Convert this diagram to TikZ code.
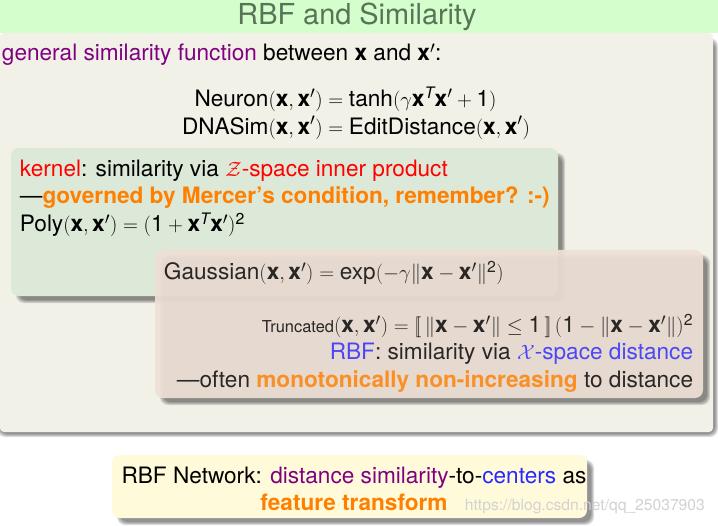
\documentclass[tikz,border=0pt]{standalone}
\usepackage{amsmath}
\usepackage{amssymb}
\usepackage{fontspec}
\setmainfont{TeX Gyre Heros}

\definecolor{titlebar}{RGB}{212,255,204}
\definecolor{slidebg}{RGB}{242,241,232}
\definecolor{titletext}{RGB}{88,116,88}
\definecolor{kernelbg}{RGB}{220,233,216}
\definecolor{rbfbg}{RGB}{238,224,214}
\definecolor{notebg}{RGB}{255,250,218}
\definecolor{hlpurple}{RGB}{128,0,128}
\definecolor{hlred}{RGB}{255,0,0}
\definecolor{hlorange}{RGB}{255,128,0}
\definecolor{hlblue}{RGB}{40,40,255}

\newcommand{\vx}{\textbf{x}}
\newcommand{\tr}{^{\textit{T}}}
\newcommand{\sq}{^{\text{2}}}
\newcommand{\one}{\text{1}}
% soft shadow under a box: x1 y1 x2 y2
\newcommand{\boxshadow}[4]{%
  \foreach \b in {0,1,2,3}
    \fill[black,opacity=0.13,rounded corners=8]
      ({#1+5+\b},{#2+5+\b}) rectangle ({#3+7-\b},{#4+7-\b});
}

\begin{document}
\begin{tikzpicture}[x=1bp,y=1bp,yscale=-1,xscale=1,
  every node/.style={inner sep=0.75pt,font=\fontsize{22.7}{27.2}\selectfont},
  boxfill/.style={rounded corners=8}]
\useasboundingbox (0,0) rectangle (718,526);
\fill[white] (0,0) rectangle (718,526);

%Slide body
\boxshadow{-8}{33}{711}{430}
\fill[slidebg,rounded corners=4] (0,33) rectangle (713,432);
%Title bar
\fill[titlebar] (0,0) rectangle (718,33);
\node[font=\fontsize{29}{32}\selectfont,text=titletext] (title) at (357,17) {RBF and Similarity};

% Text Node
\node[anchor=base west] (intro) at (1,61) {\textcolor{hlpurple}{general similarity function} between \vx{} and $\vx'$:};
% Text Node
\node (simeqs) at (356,114.5) {\jot=0pt$\begin{aligned}
  \text{Neuron}(\vx,\vx') &= \text{tanh}(\gamma\vx\tr\vx'+\one)\\
  \text{DNASim}(\vx,\vx') &= \text{EditDistance}(\vx,\vx')
\end{aligned}$};

%Kernel block
\boxshadow{11}{148}{558}{296}
\fill[kernelbg,boxfill] (11,148) rectangle (558,296);
% Text Node (base = last line)
\node[anchor=base west,align=left] (kernel) at (19,232) {\textcolor{hlred}{kernel}: similarity via \textcolor{hlred}{$\mathcal{Z}$-space inner product}\\
  ---\textcolor{hlorange}{\bfseries governed by Mercer’s condition, remember? :-)}\\[1.5pt]
  Poly$(\vx,\vx')=(\one+\vx\tr\vx')\sq$};

%RBF block
\boxshadow{155}{250}{703}{398}
\fill[rbfbg,boxfill,fill opacity=0.93] (155,250) rectangle (703,398);
\begin{scope}[opacity=0.82]
% Text Node
\node[anchor=base west] (gauss) at (163,280) {Gaussian$(\vx,\vx')=\text{exp}(-\gamma\|\vx-\vx'\|\sq)$};
% Text Node (base = last line)
\node[anchor=base east,align=right] (rbf) at (694,387) {{\fontsize{16.5}{18}\selectfont Truncated}$(\vx,\vx')=[\![\,\|\vx-\vx'\|\le \one\,]\!]\,(\one-\|\vx-\vx'\|)\sq$\\
  \textcolor{hlblue}{RBF}: similarity via \textcolor{hlblue}{$\mathcal{X}$-space distance}\\
  ---often \textcolor{hlorange}{\bfseries monotonically non-increasing} to distance};
\end{scope}

%Take-away note
\boxshadow{112}{455}{587}{518}
\fill[notebg,boxfill] (112,455) rectangle (587,518);
% Text Node
\node[align=center] (takeaway) at (354,489) {RBF Network: \textcolor{hlpurple}{distance similarity}-to-\textcolor{hlblue}{centers} as\\
  \textcolor{hlorange}{\bfseries feature transform}};
% Text Node
\node[anchor=base west,font=\fontsize{15.7}{18}\selectfont,text=gray!35] (mark) at (464,510) {https://blog.csdn.net/qq\_25037903};

\end{tikzpicture}
\end{document}
